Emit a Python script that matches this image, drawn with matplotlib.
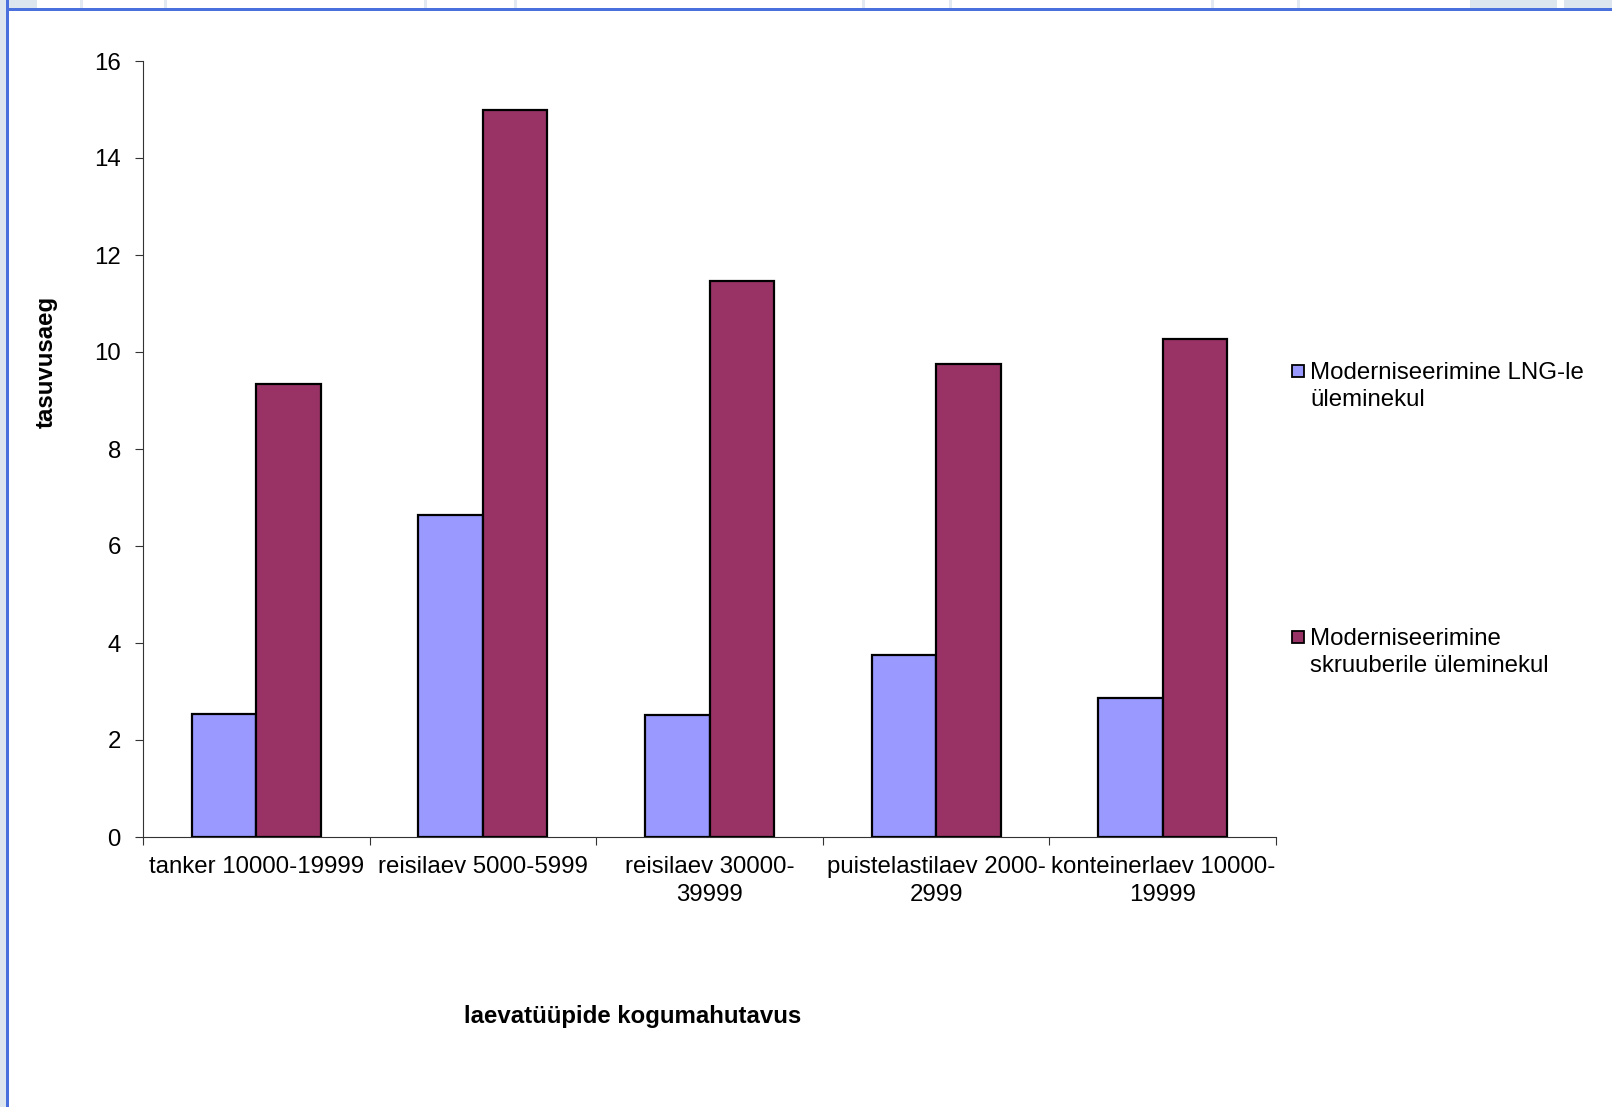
import matplotlib.pyplot as plt
from matplotlib.patches import Rectangle
import numpy as np

plt.rcParams['font.family'] = ['Liberation Sans', 'DejaVu Sans']

categories = ["tanker 10000-19999", "reisilaev 5000-5999", "reisilaev 30000-\n39999",
              "puistelastilaev 2000-\n2999", "konteinerlaev 10000-\n19999"]
lng = [2.54, 6.63, 2.52, 3.75, 2.86]
scrubber = [9.35, 15.0, 11.47, 9.75, 10.27]
series_names = ["Moderniseerimine LNG-le\nüleminekul", "Moderniseerimine\nskruuberile üleminekul"]
colors = ['#9999ff', '#993366']

W, H = 1612, 1107
fs = 17.3
fig = plt.figure(figsize=(W / 100, H / 100), dpi=100, facecolor='white')

def fx(x):
    return x / W

def fy(y):
    return 1 - y / H

# spreadsheet window chrome around the chart
fig.add_artist(Rectangle((0, 0), fx(6), 1, transform=fig.transFigure, color='#dde5ee', lw=0))
fig.add_artist(Rectangle((0, fy(8)), fx(37), fy(0) - fy(8), transform=fig.transFigure, color='#dde5ee', lw=0))
for x0, x1 in [(1470, 1557), (1564, 1612)]:
    fig.add_artist(Rectangle((fx(x0), fy(8)), fx(x1 - x0), fy(0) - fy(8), transform=fig.transFigure, color='#dde5ee', lw=0))
for xs in [80, 164, 424, 514, 862, 949, 1211, 1297]:
    fig.add_artist(Rectangle((fx(xs), fy(8)), fx(3), fy(0) - fy(8), transform=fig.transFigure, color='#e3e9f0', lw=0))
fig.add_artist(Rectangle((fx(6), fy(1107)), fx(3), 1, transform=fig.transFigure, color='#4a70dd', lw=0))
fig.add_artist(Rectangle((fx(6), fy(11)), 1, fy(8) - fy(11), transform=fig.transFigure, color='#4a70dd', lw=0))

ax = fig.add_axes([fx(143), fy(837), fx(1276 - 143), fy(61) - fy(837)])

x = np.arange(len(categories))
w = 0.285
ax.bar(x - w / 2, lng, w, color=colors[0], edgecolor='black', linewidth=1.6, zorder=3)
ax.bar(x + w / 2, scrubber, w, color=colors[1], edgecolor='black', linewidth=1.6, zorder=3)

ax.set_xlim(-0.5, len(categories) - 0.5)
ax.set_ylim(0, 16)
ax.set_yticks(range(0, 17, 2))
ax.set_xticks(x)
ax.set_xticklabels(categories, fontsize=fs, linespacing=1.32)
ax.set_xticks(np.arange(-0.5, len(categories)), minor=True)
ax.tick_params(axis='x', which='major', length=0, pad=14)
ax.tick_params(axis='x', which='minor', length=6, width=0.8, direction='out', color='#333333')
ax.tick_params(axis='y', length=6, width=0.8, direction='out', pad=10, labelsize=fs, color='#333333')

for s in ['top', 'right']:
    ax.spines[s].set_visible(False)
for s in ['left', 'bottom']:
    ax.spines[s].set_linewidth(0.8)
    ax.spines[s].set_color('#333333')

fig.text(fx(46), fy(362), 'tasuvusaeg', rotation=90, ha='center', va='center',
         fontsize=fs, fontweight='bold')
fig.text(fx(633), fy(1017), 'laevatüüpide kogumahutavus', ha='center', va='center',
         fontsize=fs, fontweight='bold')

# legend
for name, c, ytop in zip(series_names, colors, [371, 637]):
    fig.add_artist(Rectangle((fx(1292), fy(ytop + 6)), fx(12), fy(ytop - 6) - fy(ytop + 6),
                             transform=fig.transFigure, facecolor=c, edgecolor='black', lw=1.3))
    fig.text(fx(1310), fy(ytop - 9), name, ha='left', va='top', fontsize=fs, linespacing=1.32)

fig.savefig('out.png', dpi=100, facecolor='white')
